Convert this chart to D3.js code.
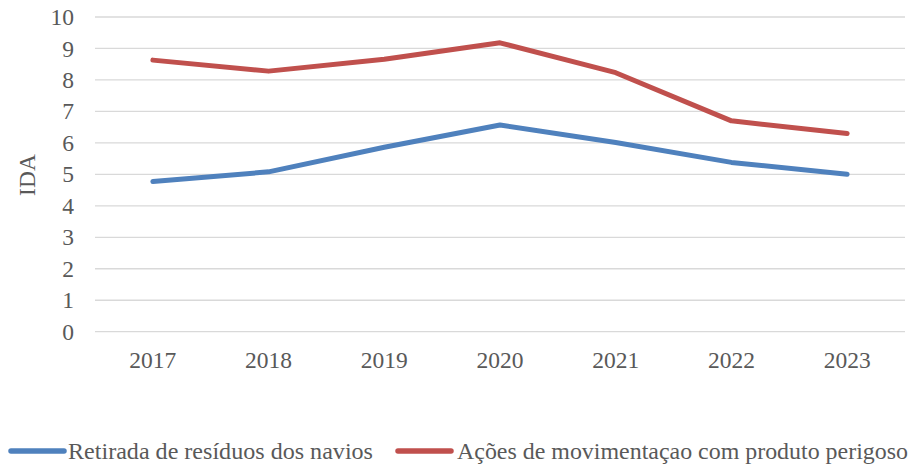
<!DOCTYPE html>
<html>
<head>
<meta charset="utf-8">
<script src="https://cdn.jsdelivr.net/npm/d3@7"></script>
<style>
  html, body { margin: 0; padding: 0; background: #fff; }
  svg { display: block; }
</style>
</head>
<body>
<svg id="chart" width="915" height="469"></svg>
<script>
// Anos avaliados
const years = ["2017", "2018", "2019", "2020", "2021", "2022", "2023"];
// IDA - Retirada de resíduos dos navios
const residuos = [4.77, 5.08, 5.86, 6.57, 6.01, 5.38, 5.00];
// IDA - Ações de movimentação com produto perigoso
const perigoso = [8.63, 8.28, 8.66, 9.18, 8.23, 6.70, 6.30];
const yTicks = [0, 1, 2, 3, 4, 5, 6, 7, 8, 9, 10];
const seriesNames = ["Retirada de resíduos dos navios", "Ações de movimentaçao com produto perigoso"];
const seriesColors = ["#4F81BD", "#C0504D"];

const FONT = "'Liberation Serif'";
const TXT = "#595959";
const FS = "23.5px";

const series = [
  { name: seriesNames[0], color: seriesColors[0], values: residuos },
  { name: seriesNames[1], color: seriesColors[1], values: perigoso }
];

const svg = d3.select("#chart");
const plot = { left: 95, right: 905, top: 17, bottom: 331.7 };

const x = d3.scaleBand().domain(years).range([plot.left, plot.right]);
const y = d3.scaleLinear().domain([0, 10]).range([plot.bottom, plot.top]);

// Linhas de grade horizontais
svg.append("g")
  .selectAll("line")
  .data(yTicks)
  .join("line")
  .attr("x1", plot.left).attr("x2", plot.right)
  .attr("y1", d => y(d)).attr("y2", d => y(d))
  .attr("stroke", "#D9D9D9").attr("stroke-width", 1.3);

function styleText(sel) {
  sel.style("font-family", FONT).style("font-size", FS).style("fill", TXT);
}

// Eixo Y
const yAxis = svg.append("g")
  .attr("transform", `translate(${plot.left},0)`)
  .call(d3.axisLeft(y).tickValues(yTicks).tickSize(0).tickPadding(21));
yAxis.select(".domain").remove();
yAxis.selectAll("text").call(styleText);

// Eixo X
const xAxis = svg.append("g")
  .attr("transform", `translate(0,${plot.bottom})`)
  .call(d3.axisBottom(x).tickSize(0).tickPadding(20));
xAxis.select(".domain").remove();
xAxis.selectAll("text").call(styleText);

// Título do eixo Y
svg.append("text")
  .attr("transform", `translate(35,175) rotate(-90)`)
  .attr("text-anchor", "middle")
  .call(styleText)
  .text("IDA");

// Séries
const line = d3.line()
  .x((d, i) => x(years[i]) + x.bandwidth() / 2)
  .y(d => y(d));

svg.append("g")
  .selectAll("path")
  .data(series)
  .join("path")
  .attr("d", d => line(d.values))
  .attr("fill", "none")
  .attr("stroke", d => d.color)
  .attr("stroke-width", 5)
  .attr("stroke-linejoin", "round")
  .attr("stroke-linecap", "round");

// Legenda
const legendY = 451;
const legendItems = [
  { x: 11, textX: 68, width: 305, ...series[0] },
  { x: 398, textX: 457, width: 451, ...series[1] }
];
const lg = svg.append("g");
legendItems.forEach(it => {
  lg.append("line")
    .attr("x1", it.x).attr("x2", it.x + 53)
    .attr("y1", legendY).attr("y2", legendY)
    .attr("stroke", it.color).attr("stroke-width", 5.5)
    .attr("stroke-linecap", "round");
  lg.append("text")
    .attr("x", it.textX).attr("y", 459)
    .attr("textLength", it.width)
    .attr("lengthAdjust", "spacingAndGlyphs")
    .call(styleText)
    .text(it.name);
});
</script>
</body>
</html>
